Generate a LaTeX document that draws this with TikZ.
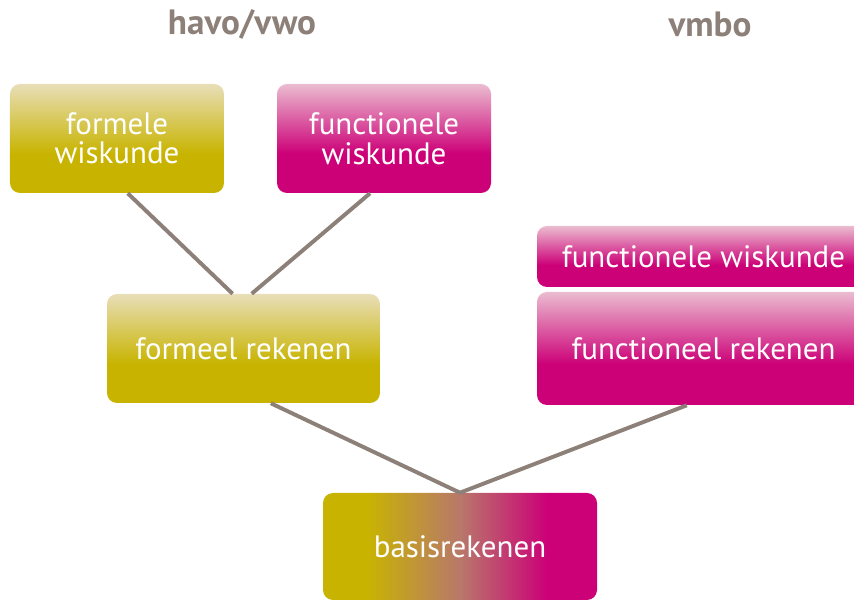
\documentclass[tikz,border=0pt]{standalone}
\usepackage{fontspec}
\setmainfont{PT Sans}
\usetikzlibrary{calc}

\definecolor{olive}{HTML}{C8B400}
\definecolor{olivelight}{HTML}{E8DEB8}
\definecolor{magenta}{HTML}{CC0077}
\definecolor{magentalight}{HTML}{EBBCD0}
\definecolor{mixbrown}{HTML}{B8786A}
\definecolor{linegray}{HTML}{8C8078}

\pgfdeclareverticalshading{olivefade}{100bp}{
  color(0bp)=(olive); color(43bp)=(olive); color(75bp)=(olivelight); color(100bp)=(olivelight)}
\pgfdeclareverticalshading{magentafade}{100bp}{
  color(0bp)=(magenta); color(43bp)=(magenta); color(75bp)=(magentalight); color(100bp)=(magentalight)}
\pgfdeclarehorizontalshading{basisfade}{100bp}{
  color(0bp)=(olive); color(33bp)=(olive); color(50bp)=(mixbrown); color(66bp)=(magenta); color(100bp)=(magenta)}

\tikzstyle{box} = [
  rounded corners=0.25cm,
  inner sep=0pt,
  align=center,
  text=white,
  font=\fontsize{22}{21}\selectfont,
]
\tikzstyle{formeel} = [box, shade, shading=olivefade]
\tikzstyle{functioneel} = [box, shade, shading=magentafade]
\tikzstyle{title} = [text=linegray, font=\bfseries\fontsize{25}{28}\selectfont]
\tikzstyle{link} = [draw=linegray, line width=2.8pt]

\begin{document}
\begin{tikzpicture}
      \useasboundingbox (0,0) rectangle (21.35,-15.05);
      \def\boxw{5.35cm}
      \def\boxh{2.725cm}

      % Titles
      \node[title] (havo) at (6.05,-0.6) {havo/vwo};
      \node[title] (vmbo) at (17.75,-0.6) {vmbo};

      % Boxes
      \node[formeel, minimum width=\boxw, minimum height=\boxh] (fw) at (2.925,-3.4625) {formele\\wiskunde};
      \node[functioneel, minimum width=\boxw, minimum height=\boxh] (fuw) at (9.6,-3.4625) {functionele\\wiskunde};
      \node[formeel, minimum width=6.825cm, minimum height=\boxh] (fr) at (6.0875,-8.7125) {formeel rekenen};
      \node[functioneel, minimum width=8.325cm, minimum height=1.525cm] (vw) at (17.5875,-6.4125) {functionele wiskunde};
      \node[functioneel, minimum width=8.325cm, minimum height=2.825cm] (vr) at (17.5875,-8.7125) {functioneel rekenen};
      \node[box, shade, shading=basisfade, minimum width=6.85cm, minimum height=2.675cm] (br) at (11.5,-13.6625) {basisrekenen};

      % Lines
      \draw[link] ($(fw.south west)!0.55!(fw.south east)$) -- ($(fr.north west)!0.46!(fr.north east)$);
      \draw[link] ($(fuw.south west)!0.435!(fuw.south east)$) -- ($(fr.north west)!0.53!(fr.north east)$);
      \draw[link] ($(fr.south west)!0.6!(fr.south east)$) -- (br.north);
      \draw[link] ($(vr.south west)!0.45!(vr.south east)$) -- (br.north);
    \end{tikzpicture}
\end{document}
